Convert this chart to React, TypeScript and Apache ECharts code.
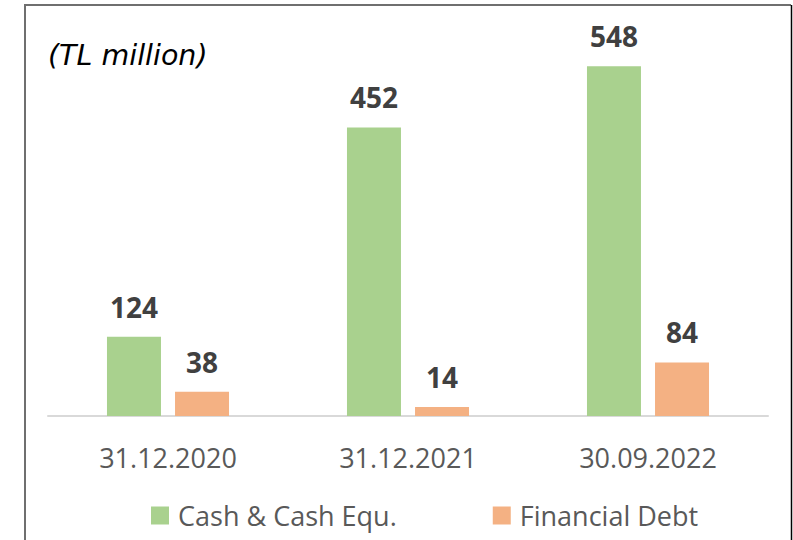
import React, { useEffect, useRef } from "react";
import * as echarts from "echarts";

const categories = ["31.12.2020", "31.12.2021", "30.09.2022"];
const cashValues = [124, 452, 548];
const debtValues = [38, 14, 84];
const seriesNames = ["Cash & Cash Equ.", "Financial Debt"];
const unitLabel = "(TL million)";

export default function App() {
  const ref = useRef<HTMLDivElement>(null);
  useEffect(() => {
    if (!ref.current) return;
    const chart = echarts.init(ref.current, null, { renderer: "svg" });
    const labelStyle = {
      show: true,
      position: "top" as const,
      distance: 16,
      fontFamily: "Open Sans",
      fontWeight: "bold" as const,
      fontSize: 28,
      color: "#404040",
    };
    chart.setOption({
      animation: false,
      backgroundColor: "#ffffff",
      grid: { left: 48, right: 25, top: 33, bottom: 124 },
      xAxis: {
        type: "category",
        data: categories,
        axisLine: { show: true, lineStyle: { color: "#d9d9d9", width: 2 } },
        axisTick: { show: false },
        axisLabel: {
          margin: 28,
          fontFamily: "Open Sans",
          fontSize: 27,
          color: "#595959",
        },
      },
      yAxis: {
        type: "value",
        min: 0,
        max: 600,
        show: false,
        splitLine: { show: false },
      },
      legend: {
        data: seriesNames,
        left: 151,
        top: 502,
        padding: 0,
        itemWidth: 18,
        itemHeight: 18,
        itemGap: 96,
        icon: "rect",
        textStyle: {
          fontFamily: "Open Sans",
          fontSize: 27,
          color: "#595959",
          padding: [0, 0, 0, 4],
        },
      },
      graphic: [
        {
          type: "text",
          left: 48,
          top: 41,
          style: {
            text: unitLabel,
            fontFamily: "DejaVu Sans",
            fontStyle: "italic",
            fontSize: 28.5,
            fill: "#000000",
          },
        },
        {
          type: "line",
          shape: { x1: 25, y1: 4, x2: 25, y2: 540 },
          style: { stroke: "#6f6f6f", lineWidth: 2 },
        },
        {
          type: "line",
          shape: { x1: 24, y1: 5, x2: 791, y2: 5 },
          style: { stroke: "#6f6f6f", lineWidth: 2 },
        },
        {
          type: "line",
          shape: { x1: 791.5, y1: 5, x2: 791.5, y2: 540 },
          style: { stroke: "#000000", lineWidth: 1.5 },
        },
      ],
      series: [
        {
          name: seriesNames[0],
          type: "bar",
          data: cashValues,
          barWidth: 54,
          barGap: "26%",
          itemStyle: { color: "#a9d18e" },
          label: labelStyle,
        },
        {
          name: seriesNames[1],
          type: "bar",
          data: debtValues,
          barWidth: 54,
          itemStyle: { color: "#f4b183" },
          label: labelStyle,
        },
      ],
    });
    return () => chart.dispose();
  }, []);
  return (
    <div
      ref={ref}
      style={{ position: "absolute", left: 0, top: 0, width: 793, height: 540 }}
    />
  );
}
